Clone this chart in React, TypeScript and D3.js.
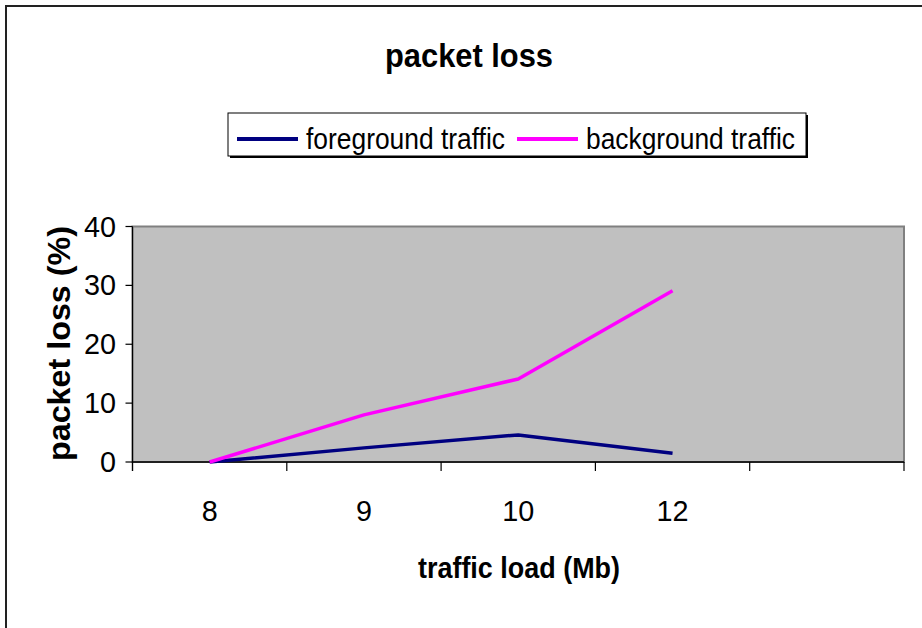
import React from "react";
import * as d3 from "d3";

const categories = ["8", "9", "10", "12", " "];
const foreground = [0, 2.4, 4.6, 1.5];
const background = [0, 8, 14.1, 29.1];
const yTicks = [0, 10, 20, 30, 40];
const seriesNames = ["foreground traffic", "background traffic"];
const seriesColors = ["#000080", "#FF00FF"];

const W = 922;
const H = 628;
const FONT = "'Liberation Sans', Arial, Helvetica, sans-serif";

export default function App() {
  const left = 132.5, right = 904, top = 226.5, bottom = 462;
  const x = d3.scaleBand<string>().domain(categories).range([left, right]).paddingInner(0).paddingOuter(0);
  const y = d3.scaleLinear().domain([0, 40]).range([bottom, top]);
  const line = d3
    .line<number>()
    .x((_, i) => (x(categories[i]) as number) + x.bandwidth() / 2)
    .y((d) => y(d));

  const boundaries = categories.map((c) => x(c) as number).concat([right]);
  const digitW = 16;

  return (
    <div style={{ position: "fixed", left: 0, top: 0, width: W, height: H, background: "#fff" }}>
      <svg width={W} height={H} style={{ display: "block" }} fontFamily={FONT}>
        <rect x={0} y={0} width={W} height={H} fill="#fff" />
        {/* outer chart border */}
        <rect x={6} y={6} width={W + 20} height={H + 20} fill="none" stroke="#222" strokeWidth={2} />

        {/* title */}
        <text x={469} y={67} textAnchor="middle" fontSize={34} fontWeight="bold" textLength={168} lengthAdjust="spacingAndGlyphs">
          packet loss
        </text>

        {/* legend */}
        <rect x={230} y={115} width={578} height={43} fill="#000" />
        <rect x={228} y={113} width={578} height={43} fill="#fff" stroke="#000" strokeWidth={1} />
        <line x1={237} x2={298} y1={139} y2={139} stroke={seriesColors[0]} strokeWidth={4} />
        <text x={306} y={149} fontSize={29} textLength={199} lengthAdjust="spacingAndGlyphs">
          {seriesNames[0]}
        </text>
        <line x1={517} x2={578} y1={139} y2={139} stroke={seriesColors[1]} strokeWidth={4} />
        <text x={586} y={149} fontSize={29} textLength={209} lengthAdjust="spacingAndGlyphs">
          {seriesNames[1]}
        </text>

        {/* plot area */}
        <rect x={left} y={top} width={right - left} height={bottom - top} fill="#C0C0C0" stroke="#808080" strokeWidth={2} />

        {/* axes */}
        <line x1={left} x2={left} y1={top} y2={bottom + 9} stroke="#000" strokeWidth={1.2} />
        <line x1={left} x2={right} y1={bottom} y2={bottom} stroke="#000" strokeWidth={1.5} />
        {yTicks.map((t) => (
          <g key={t}>
            <line x1={left - 7} x2={left} y1={y(t)} y2={y(t)} stroke="#000" strokeWidth={1.2} />
            <text
              x={116}
              y={y(t) + 10}
              textAnchor="end"
              fontSize={29}
              textLength={String(t).length * digitW}
              lengthAdjust="spacingAndGlyphs"
            >
              {t}
            </text>
          </g>
        ))}
        {boundaries.map((b, i) => (
          <line key={i} x1={b} x2={b} y1={bottom} y2={bottom + 9} stroke="#000" strokeWidth={1.2} />
        ))}
        {categories.map((c) =>
          c.trim() ? (
            <text
              key={c}
              x={(x(c) as number) + x.bandwidth() / 2}
              y={521}
              textAnchor="middle"
              fontSize={29}
              textLength={c.length * digitW}
              lengthAdjust="spacingAndGlyphs"
            >
              {c}
            </text>
          ) : null
        )}

        {/* series */}
        <path d={line(foreground) || ""} fill="none" stroke={seriesColors[0]} strokeWidth={3.5} strokeLinejoin="round" />
        <path d={line(background) || ""} fill="none" stroke={seriesColors[1]} strokeWidth={3.5} strokeLinejoin="round" />

        {/* axis titles */}
        <text x={519} y={578} textAnchor="middle" fontSize={30} fontWeight="bold" textLength={202} lengthAdjust="spacingAndGlyphs">
          traffic load (Mb)
        </text>
        <text
          transform={`translate(70,${(226 + 461) / 2}) rotate(-90)`}
          textAnchor="middle"
          fontSize={31}
          fontWeight="bold"
          textLength={235}
          lengthAdjust="spacingAndGlyphs"
        >
          packet loss (%)
        </text>
      </svg>
    </div>
  );
}
